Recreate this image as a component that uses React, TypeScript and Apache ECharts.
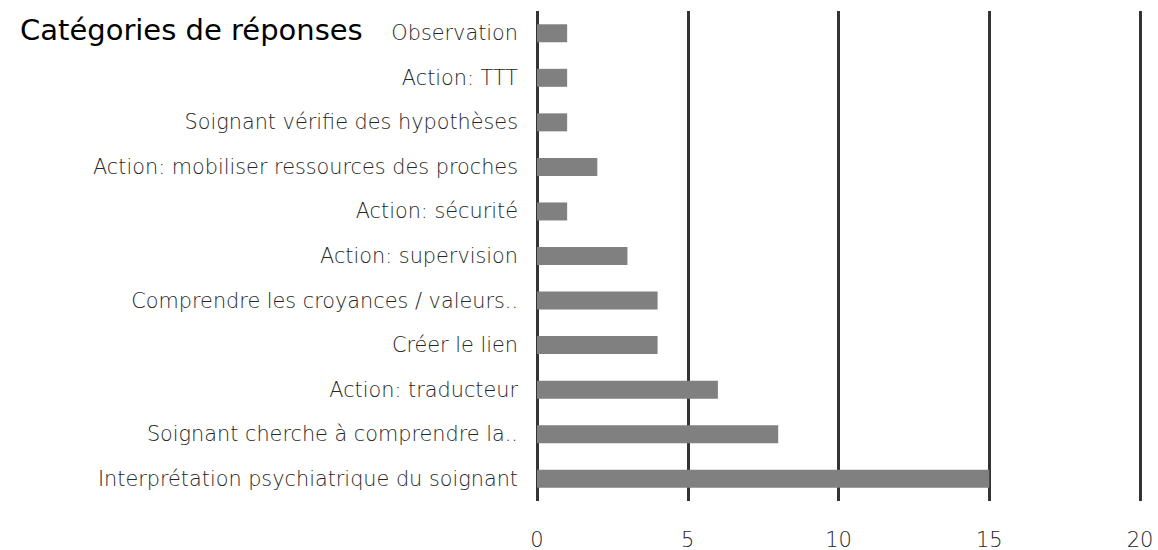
import React, { useEffect, useRef } from "react";
import * as echarts from "echarts";

const categories = [
  "Observation",
  "Action: TTT",
  "Soignant vérifie des hypothèses",
  "Action: mobiliser ressources des proches",
  "Action: sécurité",
  "Action: supervision",
  "Comprendre les croyances / valeurs..",
  "Créer le lien",
  "Action: traducteur",
  "Soignant cherche à comprendre la..",
  "Interprétation psychiatrique du soignant",
];
const values = [1, 1, 1, 2, 1, 3, 4, 4, 6, 8, 15];
const titleText = "Catégories de réponses";

export default function App() {
  const ref = useRef<HTMLDivElement>(null);
  useEffect(() => {
    const chart = echarts.init(ref.current!, null, { renderer: "svg" });
    chart.setOption({
      animation: false,
      title: {
        text: titleText,
        left: 15,
        top: 10,
        textStyle: {
          fontFamily: "'Comic Sans MS', 'DejaVu Sans', sans-serif",
          fontSize: 29,
          fontWeight: "normal",
          color: "#000",
        },
      },
      grid: { left: 537, right: 18, top: 11, bottom: 48, containLabel: false },
      xAxis: {
        type: "value",
        min: 0,
        max: 20,
        interval: 5,
        axisLine: { show: false },
        axisTick: { show: false },
        splitLine: { show: true, lineStyle: { color: "#333", width: 3 } },
        axisLabel: { margin: 28, fontSize: 21, fontWeight: 300, color: "#262626", fontFamily: "'DejaVu Sans', sans-serif" },
      },
      yAxis: {
        type: "category",
        data: categories,
        inverse: true,
        axisLine: { show: false },
        axisTick: { show: false },
        splitLine: { show: false },
        axisLabel: { margin: 19, fontSize: 20.8, fontWeight: 300, color: "#262626", fontFamily: "'DejaVu Sans', sans-serif" },
      },
      series: [
        {
          type: "bar",
          data: values,
          barWidth: 18,
          itemStyle: { color: "#808080" },
        },
      ],
    });
    return () => chart.dispose();
  }, []);
  return <div ref={ref} style={{ width: 1158, height: 550, position: "absolute", left: 0, top: 0 }} />;
}
